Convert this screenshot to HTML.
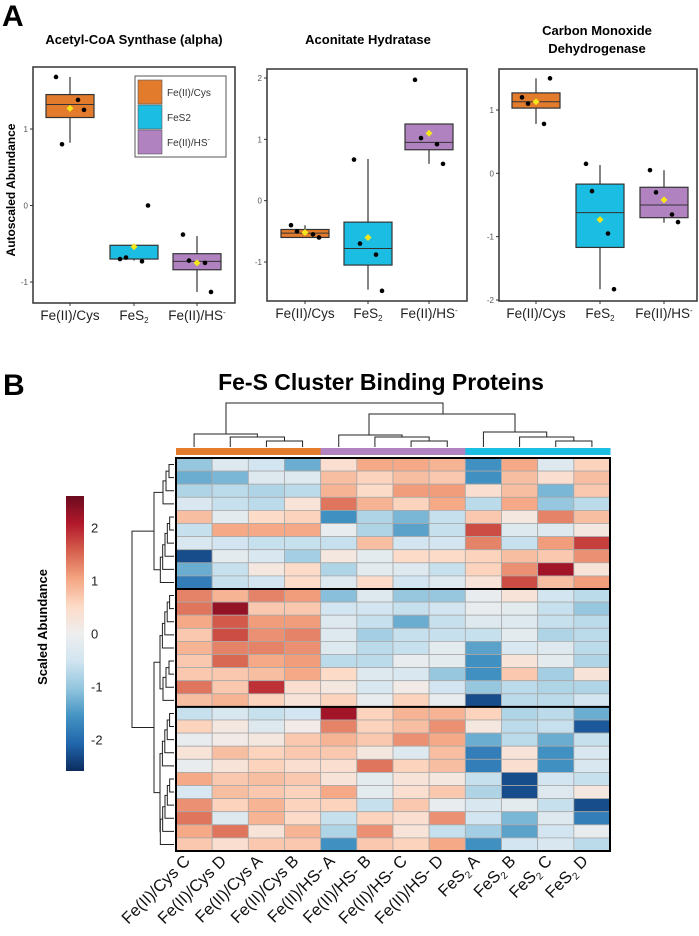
<!DOCTYPE html>
<html><head><meta charset="utf-8">
<style>
html,body{margin:0;padding:0;background:#fff;}
svg{display:block;font-family:"Liberation Sans",Arial,sans-serif;}
</style></head>
<body>
<svg id="fig" width="699" height="936" viewBox="0 0 699 936" xmlns="http://www.w3.org/2000/svg">
<text x="2" y="26" font-size="30" font-weight="bold">A</text>
<text x="3" y="395" font-size="30" font-weight="bold">B</text>
<text x="381" y="390" font-size="23" font-weight="bold" text-anchor="middle">Fe-S Cluster Binding Proteins</text>
<text transform="translate(15,190) rotate(-90)" font-size="12" font-weight="bold" text-anchor="middle">Autoscaled Abundance</text>
<g id="boxes"></g>
<g id="heat"></g>
</svg>
<script>
// ---------- Box plot data ----------
const groups = ["Fe(II)/Cys","FeS2","Fe(II)/HS-"];
const groupColors = ["#e37b2c","#1bbde2","#b182c0"];
const panelTitles = [["Acetyl-CoA Synthase (alpha)"],["Aconitate Hydratase"],["Carbon Monoxide","Dehydrogenase"]];
// [whiskerLow, q1, median, q3, whiskerHigh, mean]
const acsStats = [[0.82,1.15,1.32,1.45,1.68,1.27],[-0.72,-0.7,-0.7,-0.52,-0.52,-0.54],[-1.13,-0.84,-0.73,-0.63,-0.4,-0.75]];
const acsPoints = [[1.68,0.8,1.38,1.25],[-0.7,-0.68,-0.73,0.0],[-0.38,-0.72,-0.75,-1.13]];
const acoStats = [[-0.6,-0.6,-0.53,-0.47,-0.4,-0.52],[-1.45,-1.05,-0.78,-0.35,0.68,-0.6],[0.6,0.83,0.95,1.25,1.25,1.1]];
const acoPoints = [[-0.4,-0.5,-0.55,-0.6],[0.67,-0.7,-0.88,-1.47],[1.97,1.02,0.92,0.6]];
const codStats = [[0.78,1.03,1.13,1.27,1.5,1.13],[-1.83,-1.17,-0.62,-0.17,0.13,-0.73],[-0.78,-0.7,-0.5,-0.22,0.05,-0.42]];
const codPoints = [[1.2,1.1,0.78,1.5],[0.15,-0.28,-0.95,-1.83],[0.05,-0.3,-0.65,-0.77]];
const acsTicks = [-1,0,1], acoTicks = [-1,0,1,2], codTicks = [-2,-1,0,1];

const NS="http://www.w3.org/2000/svg";
function mk(parent,tag,attrs,txt){const e=document.createElementNS(NS,tag);for(const k in attrs)e.setAttribute(k,attrs[k]);if(txt!==undefined)e.textContent=txt;parent.appendChild(e);return e;}

const panels=[
 {x0:33,x1:235,y0:67,y1:303,v1:1,p1:129,v2:-1,p2:282,cx:[70,134,197],stats:acsStats,pts:acsPoints,ticks:acsTicks,tx:134,ty:[44]},
 {x0:267,x1:467,y0:69,y1:301,v1:2,p1:78,v2:-1,p2:262,cx:[305,368,429],stats:acoStats,pts:acoPoints,ticks:acoTicks,tx:368,ty:[44]},
 {x0:499,x1:697,y0:69,y1:301,v1:1,p1:110,v2:-2,p2:300,cx:[536,600,664],stats:codStats,pts:codPoints,ticks:codTicks,tx:597,ty:[35,53]}
];
const jit=[-14,-8,8,14];
const B=document.getElementById('boxes');
panels.forEach((P,pi)=>{
  const g=mk(B,'g',{});
  
  
  const y=v=>P.p1+(v-P.v1)*(P.p2-P.p1)/(P.v2-P.v1);
  panelTitles[pi].forEach((t,i)=>{const e=mk(g,'text',{x:P.tx,y:P.ty[i],'font-size':13,'font-weight':'bold','text-anchor':'middle'},t);
    });
  const fr=mk(g,'rect',{x:P.x0,y:P.y0,width:P.x1-P.x0,height:P.y1-P.y0,fill:'none',stroke:'#333','stroke-width':1.5});
  
  P.ticks.forEach(t=>{
    mk(g,'line',{x1:P.x0-3,x2:P.x0,y1:y(t),y2:y(t),stroke:'#333'});
    const e=mk(g,'text',{x:P.x0-5,y:y(t)+3,'font-size':8,fill:'#555','text-anchor':'end'},String(t));
    
  });
  P.cx.forEach((cx,gi)=>{
    mk(g,'line',{x1:cx,x2:cx,y1:P.y1,y2:P.y1+3,stroke:'#333'});
    const s=P.stats[gi];
    const bw=48;
    mk(g,'line',{x1:cx,x2:cx,y1:y(s[4]),y2:y(s[0]),stroke:'#333','stroke-width':1.2});
    const r=mk(g,'rect',{x:cx-bw/2,y:y(s[3]),width:bw,height:Math.max(1,y(s[1])-y(s[3])),fill:groupColors[gi],stroke:'#333','stroke-width':1.2});
    
    mk(g,'line',{x1:cx-bw/2,x2:cx+bw/2,y1:y(s[2]),y2:y(s[2]),stroke:'#333','stroke-width':1});
    P.pts[gi].forEach((v,k)=>{const c=mk(g,'circle',{cx:cx+jit[k],cy:y(v),r:2.3,fill:'#000'});
      });
    const m=y(s[5]);
    const d=mk(g,'path',{d:`M${cx} ${m-3.5}L${cx+3.5} ${m}L${cx} ${m+3.5}L${cx-3.5} ${m}Z`,fill:'#f5e51b'});
    
    const lt=mk(g,'text',{x:cx,y:P.y1+17,'font-size':13.5,'text-anchor':'middle',fill:'#222'});
    
    if(gi===0){lt.textContent='Fe(II)/Cys';}
    else if(gi===1){lt.textContent='FeS';mk(lt,'tspan',{'font-size':8,dy:3},'2');}
    else {lt.textContent='Fe(II)/HS';mk(lt,'tspan',{'font-size':8,dy:-5},'-');}
  });
});
{
 const lg=mk(B,'g',{});
 
 mk(lg,'rect',{x:135,y:76,width:91,height:81,fill:'#fff',stroke:'#555','stroke-width':1});
 const labs=['Fe(II)/Cys','FeS2','Fe(II)/HS'];
 labs.forEach((l,i)=>{
   const yy=80+i*25;
   const sw=mk(lg,'rect',{x:138,y:yy,width:24,height:24,fill:groupColors[i],stroke:'#555','stroke-width':0.6});
   
   const t=mk(lg,'text',{x:167,y:yy+16,'font-size':10,fill:'#333'},l);
   
   if(i===2) mk(t,'tspan',{'font-size':7,dy:-4},'-');
 });
}

// ---------- Heatmap data ----------
const sampleLabels=["Fe(II)/Cys C","Fe(II)/Cys D","Fe(II)/Cys A","Fe(II)/Cys B","Fe(II)/HS- A","Fe(II)/HS- B","Fe(II)/HS- C","Fe(II)/HS- D","FeS2 A","FeS2 B","FeS2 C","FeS2 D"];
const sampleGroup=[0,0,0,0,2,2,2,2,1,1,1,1];
const heatRows1=[
[-1,-0.3,-0.5,-1.3,0.4,1.0,1.0,0.9,-1.6,1.0,-0.3,0.6],
[-1.3,-1.2,-0.3,-0.3,0.8,0.6,0.8,0.7,-1.6,0.8,0.4,0.8],
[-0.8,-0.7,-0.8,-0.7,0.9,0.5,1.1,1.1,0.4,0.8,-1.2,0.7],
[-0.4,-0.6,-0.7,0.3,1.4,0.9,0.6,1.0,-0.7,1.0,-1.0,-0.7],
[0.8,-0.2,0.5,0.6,-1.6,-0.8,-1.2,-0.6,0.7,0.2,1.3,0.8],
[-0.6,1.0,1.0,1.0,-0.1,-0.8,-1.4,-0.6,1.7,-0.3,-0.3,0.2],
[-0.4,-0.5,-0.6,-0.6,-0.6,0.8,-0.5,-0.5,1.3,-0.6,1.1,1.8],
[-2.3,-0.2,-0.4,-0.9,0.2,-0.2,0.5,0.5,0.6,0.8,0.7,1.2],
[-1.3,-0.6,0.2,0.5,-0.8,-0.2,-0.3,-0.6,0.6,1.2,2.2,0.3],
[-1.8,-0.6,-0.5,0.5,-0.3,0.5,-0.5,-0.3,0.3,1.7,0.8,1.1]];
const heatRows2=[
[1.3,0.9,1.3,1.1,-1.1,-0.3,-1.0,-1.0,-0.1,0.3,-0.5,-0.7],
[1.4,2.3,0.7,0.7,-0.5,-0.5,-0.6,-0.5,-0.1,-0.2,-0.6,-1.0],
[1.0,1.6,1.1,1.1,-0.3,-0.6,-1.3,-0.6,-0.3,-0.3,-0.6,-0.7],
[0.7,1.7,1.2,1.3,-0.3,-0.9,-0.6,-0.6,-0.6,-0.2,-0.8,-0.7],
[0.9,1.3,1.3,1.2,-0.3,-0.7,-0.6,-0.2,-1.4,-0.4,-0.3,-0.7],
[0.7,1.5,1.0,1.1,-0.7,-0.7,-0.1,-0.2,-1.6,0.3,-0.2,-0.8],
[0.7,0.7,0.8,1.0,0.5,-0.3,-0.4,-1.0,-1.6,0.7,-0.9,0.3],
[1.4,0.7,1.9,0.4,0.2,-0.4,0.1,-0.5,-1.0,-0.7,-0.8,-0.8],
[0.8,0.9,0.6,0.3,0.6,-0.1,0.6,-0.1,-2.3,-0.7,-0.7,-0.5]];
const heatRows3=[
[-0.6,-0.4,-0.6,-0.5,2.2,0.6,0.9,0.9,0.6,-0.8,-0.7,-1.3],
[0.6,0.2,-0.3,0.1,1.3,0.6,0.8,1.2,0.2,-0.7,-0.6,-2.2],
[-0.1,0.1,0.2,0.7,0.9,0.7,1.2,1.0,-1.3,-0.7,-1.3,-0.6],
[0.3,0.8,0.6,0.7,0.7,0.2,-0.3,0.8,-1.8,0.3,-1.6,-0.4],
[-0.1,0.3,0.6,0.4,0.4,1.4,0.6,0.8,-1.8,0.4,-1.6,-0.4],
[1.0,0.7,0.8,0.7,0.3,-0.2,0.3,0.2,-0.6,-2.3,-0.5,-0.6],
[-0.4,0.8,0.7,0.6,1.0,-0.2,0.4,0.7,-0.8,-2.3,-0.3,0.2],
[1.2,0.6,0.9,0.6,0.6,-0.6,0.7,-0.1,-0.4,-0.2,-0.6,-2.3],
[1.4,-0.3,0.9,0.5,-0.6,0.6,0.4,1.2,-0.5,-1.2,-0.3,-1.8],
[1.0,1.4,0.3,0.9,-0.8,1.2,0.3,-0.6,-0.9,-1.4,-0.5,-0.1],
[0.7,0.4,0.7,0.7,-1.6,0.7,0.6,1.0,-1.6,-0.5,-0.4,-0.7]];
const colorTicks=[-2,-1,0,1,2];

const stops=["#0b2c5e","#2166ac","#4393c3","#92c5de","#d1e5f0","#eeeeee","#fddbc7","#f4a582","#d6604d","#b2182b","#6b0b1e"];
function hex(h){return [1,3,5].map(i=>parseInt(h.substr(i,2),16));}
function color(v){const vmin=-2.6,vmax=2.6;let t=(v-vmin)/(vmax-vmin);t=Math.max(0,Math.min(1,t));
  const f=t*(stops.length-1);const i=Math.min(stops.length-2,Math.floor(f));const u=f-i;
  const a=hex(stops[i]),b=hex(stops[i+1]);return 'rgb('+a.map((x,k)=>Math.round(x+(b[k]-x)*u)).join(',')+')';}

const H=document.getElementById('heat');
const hx0=176,hx1=610,hy0=458,hy1=851;
const rows=heatRows1.concat(heatRows2,heatRows3);
const cw=(hx1-hx0)/sampleLabels.length, rh=(hy1-hy0)/rows.length;
const gcol=["#e37b2c","#1bbde2","#b182c0"];
sampleLabels.forEach((s,j)=>{
  const a=mk(H,'rect',{x:hx0+j*cw,y:448,width:cw+0.5,height:7,fill:gcol[sampleGroup[j]]});
  
});
rows.forEach((r,i)=>r.forEach((v,j)=>{
  const c=mk(H,'rect',{x:hx0+j*cw,y:hy0+i*rh,width:cw,height:rh,fill:color(v),stroke:'#a9a9a9','stroke-width':0.8});
  
}));
[heatRows1.length,heatRows1.length+heatRows2.length].forEach(k=>{
  mk(H,'line',{x1:hx0,x2:hx1,y1:hy0+k*rh,y2:hy0+k*rh,stroke:'#000','stroke-width':2});});
mk(H,'rect',{x:hx0,y:hy0,width:hx1-hx0,height:hy1-hy0,fill:'none',stroke:'#000','stroke-width':2});
sampleLabels.forEach((s,j)=>{
  const cx=hx0+(j+0.5)*cw-3, cy=hy1+11;
  const t=mk(H,'text',{transform:`translate(${cx},${cy}) rotate(-45)`,'font-size':16.5,'text-anchor':'end',fill:'#111'});
  
  if(s.startsWith('FeS2')){t.textContent='FeS';mk(t,'tspan',{'font-size':10,dy:4},'2');mk(t,'tspan',{dy:-4},' '+s.slice(5));}
  else t.textContent=s;
});
const dl=(pts)=>{const p=mk(H,'path',{d:pts,fill:'none',stroke:'#222','stroke-width':1});};
const X=j=>hx0+(j+0.5)*cw;
dl(`M${X(2)} 447V441H${X(3)}V447`);dl(`M${X(1)} 447V437H${(X(2)+X(3))/2}V441`);dl(`M${X(0)} 447V434H${(X(1)+(X(2)+X(3))/2)/2}V437`);
dl(`M${X(6)} 447V441H${X(7)}V447`);dl(`M${X(5)} 447V437H${(X(6)+X(7))/2}V441`);dl(`M${X(4)} 447V435H${(X(5)+(X(6)+X(7))/2)/2}V437`);
dl(`M${X(10)} 447V441H${X(11)}V447`);dl(`M${X(9)} 447V437H${(X(10)+X(11))/2}V441`);dl(`M${X(8)} 447V432H${(X(9)+(X(10)+X(11))/2)/2}V437`);
dl(`M226 434V403H443V414`);dl(`M369 435V414H515V432`);
const Y=i=>hy0+(i+0.5)*rh;
function sub(a,b,xr){
  let cx=hx0-2, cy=Y(a);
  for(let i=a+1;i<=b;i++){const nx=hx0-4-(i-a)*(xr/(b-a+1));dl(`M${cx} ${cy}H${nx}V${Y(i)}H${hx0-2}`);cy=(cy+Y(i))/2;cx=nx;}
  return [cx,cy];
}
const g1a=sub(0,3,12),g1b=sub(4,9,14);
dl(`M${g1a[0]} ${g1a[1]}H154V${g1b[1]}H${g1b[0]}`);
const g2a=sub(10,14,12),g2b=sub(15,18,12);
dl(`M${g2a[0]} ${g2a[1]}H160V${g2b[1]}H${g2b[0]}`);
const g3a=sub(19,23,12),g3b=sub(24,29,14);
dl(`M${g3a[0]} ${g3a[1]}H160V${g3b[1]}H${g3b[0]}`);
const m23=((g2a[1]+g2b[1])/2+(g3a[1]+g3b[1])/2)/2;
dl(`M160 ${(g2a[1]+g2b[1])/2}H154V${(g3a[1]+g3b[1])/2}H160`);
dl(`M154 ${(g1a[1]+g1b[1])/2}H132V${m23}H154`);
const cb=mk(H,'g',{});

const defs=mk(cb,'defs',{});const lgd=mk(defs,'linearGradient',{id:'cbg',x1:0,y1:1,x2:0,y2:0});
stops.forEach((s,i)=>mk(lgd,'stop',{offset:i/(stops.length-1),'stop-color':s}));
const cbTop=496,cbBot=771,vTop=2.6,vBot=-2.6;
mk(cb,'rect',{x:66,y:cbTop,width:18,height:cbBot-cbTop,fill:'url(#cbg)'});
const cy=v=>cbTop+(vTop-v)*(cbBot-cbTop)/(vTop-vBot);
colorTicks.forEach(t=>{const e=mk(cb,'text',{x:91,y:cy(t)+5,'font-size':13,fill:'#222'},String(t));
  });
const ct=mk(cb,'text',{transform:'translate(47,627) rotate(-90)','font-size':13,'font-weight':'bold','text-anchor':'middle'},'Scaled Abundance');

</script>
</body></html>
